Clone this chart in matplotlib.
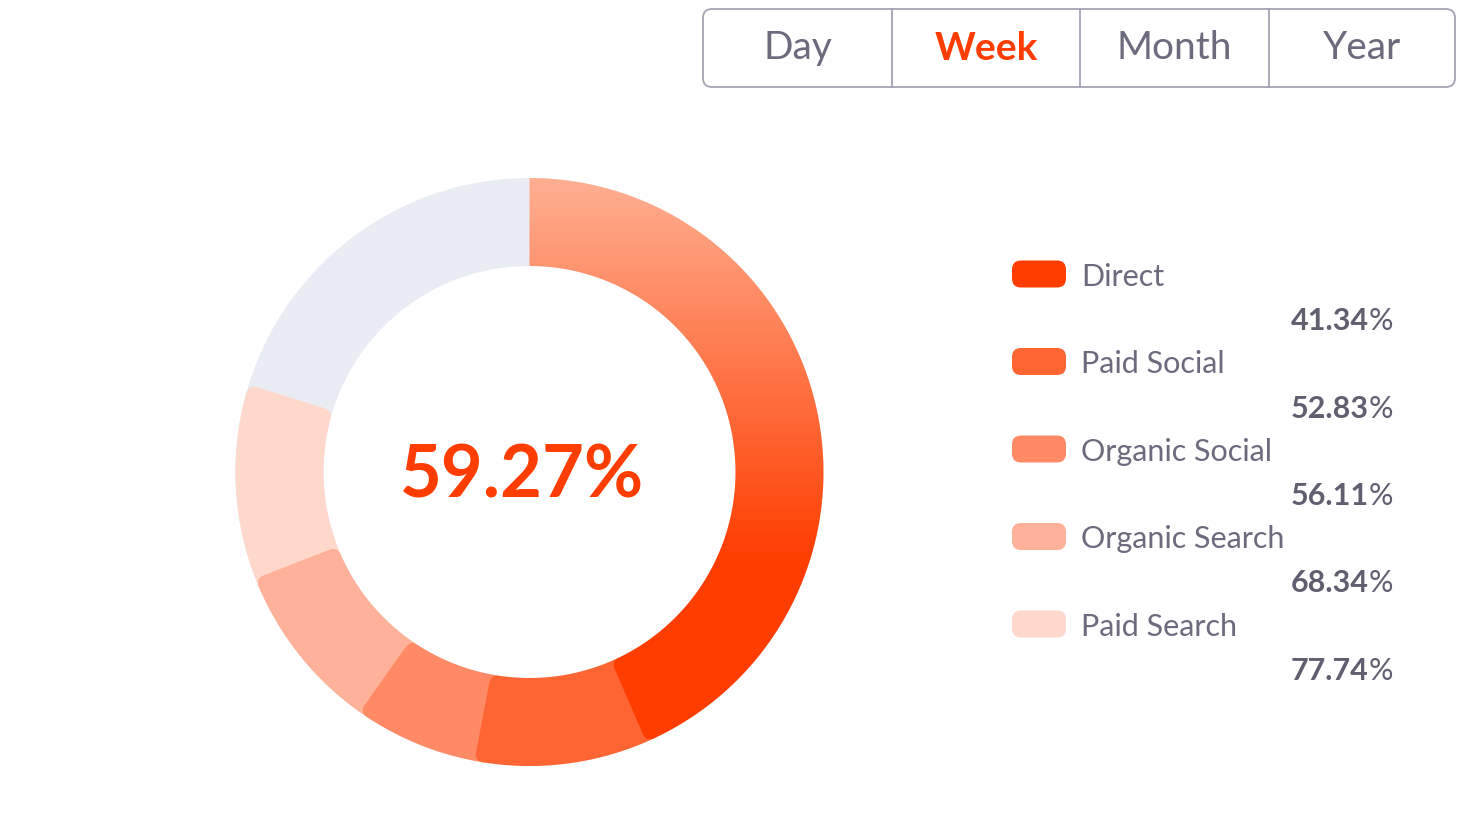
import numpy as np
import matplotlib
matplotlib.use("Agg")
import matplotlib.pyplot as plt
from matplotlib.patches import Polygon, FancyBboxPatch, Wedge
from matplotlib.colors import to_rgb

# ---------------- data ----------------
categories = ["Direct", "Paid Social", "Organic Social", "Organic Search", "Paid Search"]
ring_share = [43.5, 9.5, 6.8, 9.3, 10.7]          # % of the ring covered by each segment
legend_values = [41.34, 52.83, 56.11, 68.34, 77.74]
center_value = 59.27
periods = ["Day", "Week", "Month", "Year"]
active_period = "Week"

colors = ["#FF3D00", "#FF6533", "#FF8A65", "#FFB199", "#FFD8CC"]
track_color = "#E9ECF3"
label_color = "#6B6B7D"
value_color = "#5F5F70"
accent = "#FF3D00"
FONT = "Lato"

# ---------------- figure ----------------
W, H = 1468, 834
fig = plt.figure(figsize=(W / 100, H / 100), dpi=100)
ax = fig.add_axes([0, 0, 1, 1])
ax.set_xlim(0, W)
ax.set_ylim(H, 0)
ax.axis("off")

cx, cy, R, r = 529.5, 472.0, 294.0, 206.0


def pt(rad, phi):
    p = np.deg2rad(phi)
    return (cx + rad * np.sin(p), cy - rad * np.cos(p))


def quad(p0, p1, p2, n=12):
    t = np.linspace(0, 1, n)[:, None]
    p0, p1, p2 = map(np.array, (p0, p1, p2))
    return list((1 - t) ** 2 * p0 + 2 * (1 - t) * t * p1 + t ** 2 * p2)


def segment(phi1, phi2, c=9):
    pts = []
    a_out = phi2 - np.rad2deg(c / R)
    for ph in np.linspace(phi1, a_out, 120):
        pts.append(pt(R, ph))
    pts += quad(pt(R, a_out), pt(R, phi2), pt(R - c, phi2))
    a_in = phi2 - np.rad2deg(c / r)
    pts += quad(pt(r + c, phi2), pt(r, phi2), pt(r, a_in))
    for ph in np.linspace(a_in, phi1, 120):
        pts.append(pt(r, ph))
    return np.array(pts)


# background track
ax.add_patch(Wedge((cx, cy), R, 0, 360, width=R - r, facecolor=track_color,
                   edgecolor="none", zorder=1))

# segment boundaries (degrees clockwise from 12 o'clock)
bounds = np.concatenate([[0], np.cumsum(ring_share) * 3.6])

# draw from last to first so each segment's rounded end sits on the next one
for i in range(len(categories) - 1, -1, -1):
    p1, p2 = bounds[i], bounds[i + 1]
    start = p1 - (2 if i > 0 else 0)
    poly = Polygon(segment(start, p2), closed=True, facecolor=colors[i],
                   edgecolor="none", zorder=2 + (len(categories) - i))
    ax.add_patch(poly)
    if i == 0:
        poly.set_facecolor("none")
        top = np.array(to_rgb("#FFAF92"))
        bot = np.array(to_rgb(colors[0]))
        ys = np.linspace(cy - R, cy + R, 400)
        t = np.clip((ys - (cy - R)) / (560 - (cy - R)), 0, 1)[:, None]
        col = top * (1 - t) + bot * t
        img = np.repeat(col[:, None, :], 4, axis=1)
        im = ax.imshow(img, extent=(cx - R, cx + R, cy + R, cy - R), origin="upper",
                       aspect="auto", interpolation="bilinear", zorder=10)
        im.set_clip_path(poly)

ax.text(cx - 8, cy + 5, f"{center_value:.2f}%", ha="center", va="center",
        fontsize=52, fontweight="bold", color=accent, family=FONT, zorder=20)

# ---------------- period selector ----------------
bx0, by0, bw, bh = 703, 9, 752, 78
ax.add_patch(FancyBboxPatch((bx0, by0), bw, bh, boxstyle="round,pad=0,rounding_size=9",
                            facecolor="white", edgecolor="#A3A3B3", linewidth=1.3,
                            zorder=5))
dividers = [892, 1080, 1269]
for x in dividers:
    ax.plot([x, x], [by0, by0 + bh], color="#A3A3B3", linewidth=1.3, zorder=6)
edges = [bx0] + dividers + [bx0 + bw]
for k, name in enumerate(periods):
    xm = (edges[k] + edges[k + 1]) / 2
    is_act = name == active_period
    ax.text(xm, 48, name, ha="center", va="center", fontsize=28,
            fontweight="bold" if is_act else "normal",
            color=accent if is_act else label_color, family=FONT, zorder=7)

# ---------------- legend ----------------
fig.canvas.draw()
renderer = fig.canvas.get_renderer()
y0, dy = 274, 87.5
for i, name in enumerate(categories):
    y = y0 + i * dy
    ax.add_patch(FancyBboxPatch((1012, y - 13.5), 54, 27,
                                boxstyle="round,pad=0,rounding_size=9",
                                facecolor=colors[i], edgecolor="none", zorder=5))
    ax.text(1081, y + 2.5, name, ha="left", va="center", fontsize=22,
            color=label_color, family=FONT, zorder=6)
    vy = y + 47
    pct = ax.text(1393, vy, "%", ha="right", va="center", fontsize=22,
                  color=value_color, family=FONT, zorder=6)
    bb = pct.get_window_extent(renderer)
    ax.text(bb.x0, vy, f"{legend_values[i]:.2f}", ha="right", va="center",
            fontsize=22, fontweight="bold", color=value_color, family=FONT, zorder=6)

fig.savefig("out.png", dpi=100, facecolor="white")
